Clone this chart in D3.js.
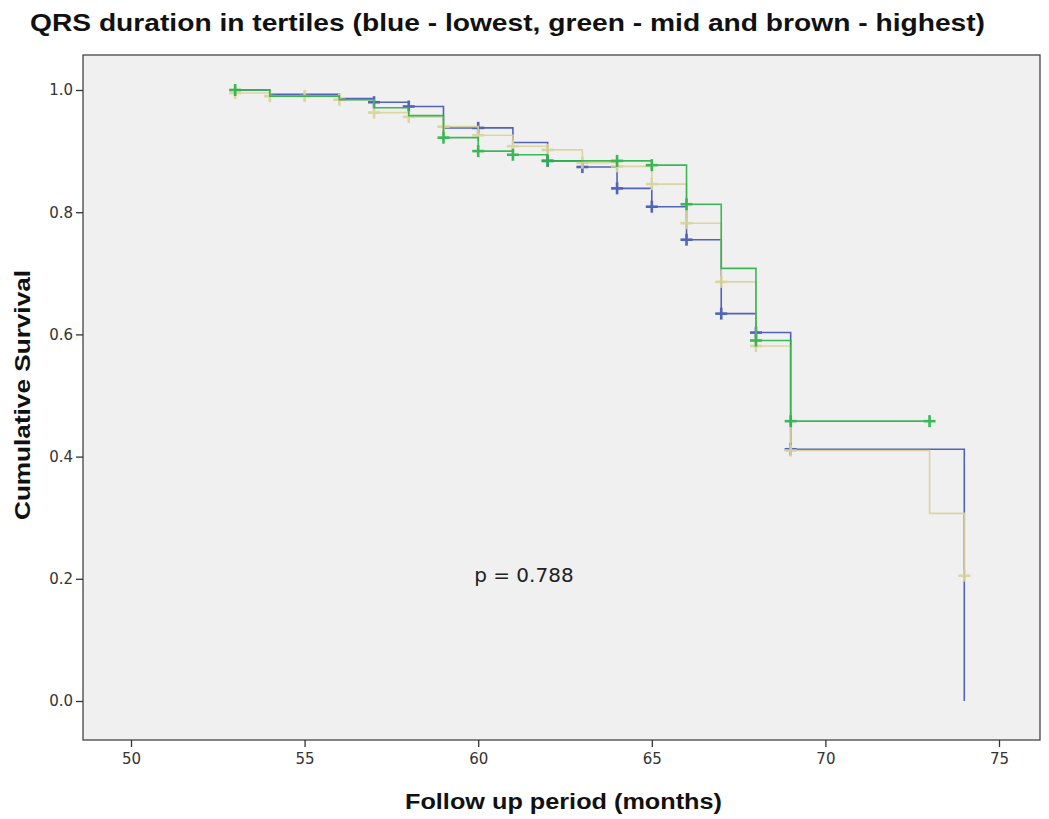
<!DOCTYPE html>
<html>
<head>
<meta charset="utf-8">
<script src="https://cdn.jsdelivr.net/npm/d3@7"></script>
<style>
  html, body { margin: 0; padding: 0; background: #ffffff; }
  svg { display: block; }
</style>
</head>
<body>
<svg id="chart" width="1049" height="819"></svg>
<script>
// Kaplan–Meier survival by QRS duration tertile
const titleText = "QRS duration in tertiles (blue - lowest, green - mid and brown - highest)";
const xLabel = "Follow up period (months)";
const yLabel = "Cumulative Survival";
const pText = "p = 0.788";

const xTicks = [50, 55, 60, 65, 70, 75];
const yTicks = [0.0, 0.2, 0.4, 0.6, 0.8, 1.0];

// Lowest tertile (blue)
const lowTimes    = [53, 54, 55, 56, 57, 58, 59, 60, 61, 62, 63, 64, 65, 66, 67, 68, 69, 74];
const lowSurv     = [1.0, 0.993, 0.993, 0.986, 0.980, 0.973, 0.938, 0.938, 0.914, 0.884, 0.874, 0.839, 0.809, 0.755, 0.634, 0.603, 0.412, 0.0];
const lowCensored = [57, 58, 60, 62, 63, 64, 65, 66, 67, 68, 69];

// Mid tertile (green)
const midTimes    = [53, 54, 56, 57, 58, 59, 60, 61, 62, 64, 65, 66, 67, 68, 69, 73];
const midSurv     = [1.0, 0.990, 0.984, 0.971, 0.958, 0.922, 0.900, 0.894, 0.884, 0.884, 0.877, 0.813, 0.708, 0.590, 0.458, 0.458];
const midCensored = [53, 59, 60, 61, 62, 64, 65, 66, 68, 69, 73];

// Highest tertile (brown)
const highTimes    = [53, 54, 55, 56, 57, 58, 59, 60, 61, 62, 63, 64, 65, 66, 67, 68, 69, 73, 74];
const highSurv     = [0.995, 0.990, 0.990, 0.984, 0.963, 0.956, 0.940, 0.926, 0.908, 0.902, 0.881, 0.875, 0.846, 0.782, 0.686, 0.581, 0.410, 0.307, 0.205];
const highCensored = [53, 54, 55, 56, 57, 58, 59, 60, 61, 62, 63, 64, 65, 66, 67, 68, 69, 74];

const series = [
  { name: "lowest",  times: lowTimes,  surv: lowSurv,  censored: lowCensored,  color: "#4458b4" },
  { name: "highest", times: highTimes, surv: highSurv, censored: highCensored, color: "#d9d39b" },
  { name: "mid",     times: midTimes,  surv: midSurv,  censored: midCensored,  color: "#2db348" }
];

const svg = d3.select("#chart");
const box = { left: 83, right: 1040, top: 55, bottom: 740 };

const x = d3.scaleLinear().domain([50, 75]).range([131, 999]);
const y = d3.scaleLinear().domain([0, 1]).range([701, 90]);

// Plot panel
svg.append("rect")
  .attr("x", box.left).attr("y", box.top)
  .attr("width", box.right - box.left).attr("height", box.bottom - box.top)
  .attr("fill", "#f0f0f0")
  .attr("stroke", "#444").attr("stroke-width", 1.3);

// Axes
const xAxis = svg.append("g")
  .attr("transform", `translate(0,${box.bottom})`)
  .call(d3.axisBottom(x).tickValues(xTicks).tickFormat(d3.format("d")).tickSize(7).tickPadding(6));
const yAxis = svg.append("g")
  .attr("transform", `translate(${box.left},0)`)
  .call(d3.axisLeft(y).tickValues(yTicks).tickFormat(d3.format(".1f")).tickSize(7).tickPadding(3));
[xAxis, yAxis].forEach(g => {
  g.select(".domain").remove();
  g.selectAll(".tick line").attr("stroke", "#333").attr("stroke-width", 1.3);
  g.selectAll(".tick text")
    .attr("fill", "#333")
    .style("font-family", "'DejaVu Sans', sans-serif")
    .style("font-size", "15px");
});

// Survival step curves
const stepLine = d3.line()
  .x(d => x(d.t))
  .y(d => y(d.s))
  .curve(d3.curveStepAfter);

const curves = svg.append("g");
series.forEach(sr => {
  const pts = sr.times.map((t, i) => ({ t, s: sr.surv[i] }));
  const g = curves.append("g").attr("class", "km-" + sr.name).attr("opacity", 0.92);
  g.append("path")
    .datum(pts)
    .attr("d", stepLine)
    .attr("fill", "none")
    .attr("stroke", sr.color)
    .attr("stroke-width", 1.6);

  // Censoring marks
  const marks = sr.censored.map(t => ({ t, s: sr.surv[sr.times.indexOf(t)] }));
  const m = g.selectAll("g.mark").data(marks).enter().append("g")
    .attr("class", "mark")
    .attr("transform", d => `translate(${x(d.t)},${y(d.s)})`);
  m.append("line").attr("x1", -6).attr("x2", 6).attr("y1", 0).attr("y2", 0)
    .attr("stroke", sr.color).attr("stroke-width", 2.6);
  m.append("line").attr("x1", 0).attr("x2", 0).attr("y1", -6).attr("y2", 6)
    .attr("stroke", sr.color).attr("stroke-width", 2.6);
});

// Annotation
svg.append("text")
  .attr("x", x(60) - 4).attr("y", y(0.2) + 3)
  .attr("fill", "#222")
  .style("font-family", "'DejaVu Sans', sans-serif")
  .style("font-size", "20px")
  .text(pText);

// Title and axis labels
svg.append("text")
  .attr("x", 30).attr("y", 31)
  .attr("textLength", 955).attr("lengthAdjust", "spacingAndGlyphs")
  .attr("fill", "#111")
  .style("font-family", "'Liberation Sans', Arial, sans-serif")
  .style("font-weight", "bold")
  .style("font-size", "24px")
  .text(titleText);

svg.append("text")
  .attr("x", 405).attr("y", 809)
  .attr("textLength", 317).attr("lengthAdjust", "spacingAndGlyphs")
  .attr("fill", "#111")
  .style("font-family", "'Liberation Sans', Arial, sans-serif")
  .style("font-weight", "bold")
  .style("font-size", "22px")
  .text(xLabel);

svg.append("text")
  .attr("transform", "translate(30,520) rotate(-90)")
  .attr("textLength", 250).attr("lengthAdjust", "spacingAndGlyphs")
  .attr("fill", "#111")
  .style("font-family", "'Liberation Sans', Arial, sans-serif")
  .style("font-weight", "bold")
  .style("font-size", "22px")
  .text(yLabel);
</script>
</body>
</html>
